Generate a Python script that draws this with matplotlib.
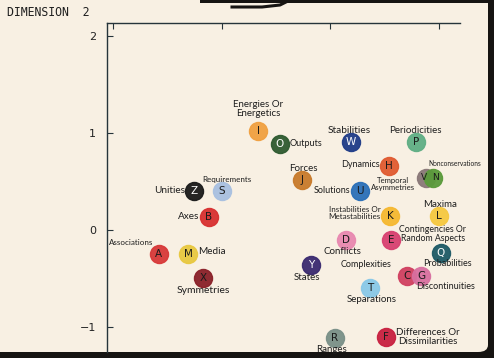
import matplotlib
matplotlib.use("Agg")
import matplotlib.pyplot as plt
from matplotlib.patches import Rectangle, FancyBboxPatch

# hand drawn MDS style map, dimension 1 (no labels) vs dimension 2
letters = ["I", "O", "W", "P", "H", "V", "N", "J", "U", "Z", "S", "B", "K", "L",
           "D", "E", "A", "M", "Q", "Y", "C", "G", "X", "T", "R", "F"]
names = ["Energies Or\nEnergetics", "Outputs", "Stabilities", "Periodicities",
         "Dynamics", "Temporal\nAsymmetries", "Nonconservations", "Forces",
         "Solutions", "Unities", "Requirements", "Axes",
         "Instabilities Or\nMetastabilities", "Maxima", "Conflicts",
         "Contingencies Or\nRandom Aspects", "Associations", "Media",
         "Probabilities", "States", "Complexities", "Discontinuities",
         "Symmetries", "Separations", "Ranges", "Differences Or\nDissimilarities"]
dim1 = [-0.666, -0.464, 0.19, 0.787, 0.539, 0.88, 0.944, -0.261, 0.272, -1.255,
        -0.997, -1.117, 0.548, 1.0, 0.144, 0.557, -1.577, -1.31, 1.017, -0.178,
        0.705, 0.833, -1.172, 0.364, 0.042, 0.512]
dim2 = [1.021, 0.887, 0.907, 0.907, 0.660, 0.536, 0.536, 0.515, 0.402, 0.402,
        0.402, 0.134, 0.144, 0.144, -0.103, -0.103, -0.247, -0.247, -0.237, -0.361,
        -0.474, -0.474, -0.495, -0.598, -1.113, -1.103]
yticks = [2, 1, 0, -1]
xticks = [-2, -1, 0, 1]

colors = ["#f0a040", "#2e5a30", "#1f3c88", "#5fae84", "#e05a30", "#8a7878", "#5a9a3a",
          "#c87a2a", "#2a6fb8", "#1a1a1a", "#a8c0e0", "#d83030", "#f5b830", "#f5c840",
          "#e888b0", "#d84070", "#d83838", "#e8c840", "#1e5a66", "#3a2a70",
          "#d04060", "#d870a0", "#8a2028", "#88c8e8", "#7a9088", "#c82040"]
dark = {"W", "Z", "Y", "O", "Q"}
# small nudges of the letters inside circles that overlap
nudge = {"V": -2, "N": 2}

# label offsets in pixels (dx right, dy down), ha, fontsize
offs = {
    "I": (0, -22, "center", 7), "O": (10, 0, "left", 6.5), "W": (-2, -12, "center", 7.3),
    "P": (-1, -12, "center", 7), "H": (-9, -1, "right", 6.5), "V": (-11, 6, "right", 5.6),
    "N": (22, -14, "center", 4.8), "J": (1, -12, "center", 7), "U": (-10, 0, "right", 6.5),
    "Z": (-9, 0, "right", 7.2), "S": (5, -11, "center", 5.8), "B": (-10, 0, "right", 7.2),
    "K": (-9, -3, "right", 5.8), "L": (1, -12, "center", 7), "D": (-4, 12, "center", 7),
    "E": (42, -6, "center", 6.3), "A": (-28, -11, "center", 5.8), "M": (10, -2, "left", 7.2),
    "Q": (6, 11, "center", 6.5), "Y": (-4, 13, "center", 7), "C": (-41, -11, "center", 6.5),
    "G": (25, 11, "center", 6.5), "X": (0, 13, "center", 7.5), "T": (2, 12, "center", 7),
    "R": (-3, 12, "center", 7), "F": (10, 0, "left", 7),
}

W, H = 494, 358
paper = "#f8f0e3"
ink = "#26343a"

fig = plt.figure(figsize=(W / 100, H / 100), dpi=100)
fig.patch.set_facecolor("#161412")

def fx(px):
    return px / W

def fy(py):
    return 1 - py / H

# paper sheet with rounded right corners
fig.patches.append(FancyBboxPatch((fx(-20), fy(352)), fx(508), fy(-20) - fy(352),
                                  boxstyle="round,pad=0,rounding_size=0.02",
                                  transform=fig.transFigure, facecolor=paper,
                                  edgecolor="none", zorder=-3))
fig.patches.append(Rectangle((fx(200), fy(2.5)), fx(294), 2.5 / H, transform=fig.transFigure,
                             facecolor="#161412", edgecolor="none", zorder=-2))
fig.lines.append(plt.Line2D([fx(232), fx(262), fx(280), fx(290)],
                            [fy(7), fy(7), fy(5), fy(0)], transform=fig.transFigure,
                            color="#161412", lw=2.2, zorder=-2))

ax = fig.add_axes([fx(107), fy(352), fx(353), (352 - 23) / H])
ax.set_zorder(2)
ax.set_facecolor("none")
ax.set_xlim(-2.055, 1.192)
ax.set_ylim(-1.258, 2.134)

for sp in ["right", "bottom"]:
    ax.spines[sp].set_visible(False)
for sp in ["left", "top"]:
    ax.spines[sp].set_color(ink)
    ax.spines[sp].set_linewidth(1.0)

ax.set_yticks(yticks)
ax.set_yticklabels([str(v) if v >= 0 else "\u2212" + str(-v) for v in yticks])
ax.set_xticks(xticks)
ax.tick_params(axis="y", direction="in", length=4, width=0.8, color=ink,
               labelsize=8, labelcolor="#222222", pad=8)
ax.tick_params(axis="x", direction="in", length=4, width=0.8, color=ink,
               top=True, bottom=False, labeltop=False, labelbottom=False)

for i, let in enumerate(letters):
    ax.plot(dim1[i], dim2[i], "o", ms=13, color=colors[i], mec=colors[i],
            alpha=0.95, zorder=3)
    tc = "white" if let in dark else "#1a1a1a"
    ax.annotate(let, (dim1[i], dim2[i]), xytext=(nudge.get(let, 0), 0),
                textcoords="offset pixels", ha="center", va="center",
                fontsize=7.5 if let not in nudge else 6.5, color=tc, zorder=4)
    dx, dy, ha, fs = offs[let]
    ax.annotate(names[i], (dim1[i], dim2[i]), xytext=(dx, -dy),
                textcoords="offset pixels", ha=ha, va="center", fontsize=fs,
                family="Lato", color="#1e1e1e", linespacing=0.9,
                multialignment="center", zorder=5)

fig.text(fx(7), fy(13), "DIMENSION  2", family="DejaVu Sans Mono", fontsize=8.3,
         color="#1e1e1e", va="center", ha="left")

fig.savefig("out.png", dpi=100, facecolor=fig.get_facecolor())
